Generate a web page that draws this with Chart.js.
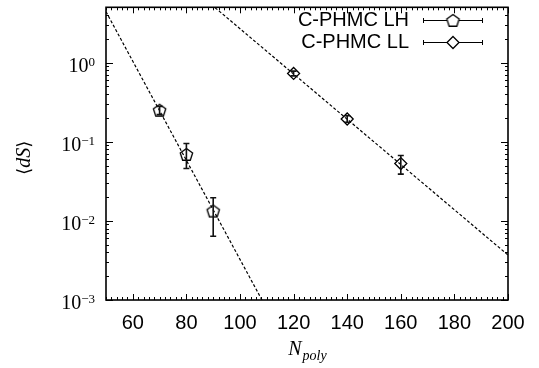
<!DOCTYPE html>
<html>
<head>
<meta charset="utf-8">
<script src="https://cdn.jsdelivr.net/npm/chart.js@4.4.1/dist/chart.umd.min.js"></script>
<style>
  html, body { margin: 0; padding: 0; background: #fff; }
  #wrap { width: 539px; height: 368px; position: relative; }
</style>
</head>
<body>
<div id="wrap"><canvas id="c" width="539" height="368"></canvas></div>
<script>
// C-PHMC LH: mean <dS> with error bars
const lhN = [70, 80, 90];
const lhDS = [0.25, 0.069, 0.0133];
const lhLow = [0.22, 0.046, 0.0064];
const lhHigh = [0.28, 0.095, 0.0196];

// C-PHMC LL: mean <dS> with error bars
const llN = [120, 140, 160];
const llDS = [0.73, 0.194, 0.053];
const llLow = [0.68, 0.176, 0.039];
const llHigh = [0.78, 0.213, 0.067];

// exponential fits: end points of the straight lines on the log axis
const lhFitN = [50, 110];
const lhFitDS = [4.4, 0.00077];
const llFitN = [85, 200];
const llFitDS = [7.2, 0.0037];

// axis ticks
const xTicks = [60, 80, 100, 120, 140, 160, 180, 200];
const yTicks = [1e-3, 1e-2, 1e-1, 1];
const yTickExp = ['\u22123', '\u22122', '\u22121', '0'];

const legendLabels = ['C-PHMC LH', 'C-PHMC LL'];

const pts = (xs, ys) => xs.map((v, i) => ({ x: v, y: ys[i] }));

// open pentagon marker
function pentagonMarker(r) {
  const s = Math.ceil(r * 2 + 4);
  const cv = document.createElement('canvas');
  cv.width = s; cv.height = s;
  const g = cv.getContext('2d');
  g.strokeStyle = '#000';
  g.lineWidth = 1.3;
  g.beginPath();
  for (let k = 0; k < 5; k++) {
    const a = -Math.PI / 2 + k * 2 * Math.PI / 5;
    const px = s / 2 + r * Math.cos(a), py = s / 2 + r * Math.sin(a) + 0.5;
    if (k === 0) g.moveTo(px, py); else g.lineTo(px, py);
  }
  g.closePath();
  g.stroke();
  return cv;
}
const pent = pentagonMarker(6.5);

function drawDiamond(ctx, cx, cy, r) {
  ctx.beginPath();
  ctx.moveTo(cx, cy - r); ctx.lineTo(cx + r, cy); ctx.lineTo(cx, cy + r); ctx.lineTo(cx - r, cy);
  ctx.closePath(); ctx.stroke();
}

const errSeries = [
  { n: lhN, lo: lhLow, hi: lhHigh },
  { n: llN, lo: llLow, hi: llHigh }
];

const decor = {
  id: 'decor',
  afterDatasetsDraw(chart) {
    const { ctx, chartArea: a, scales: { x, y } } = chart;
    ctx.save();

    // error bars
    ctx.strokeStyle = '#111';
    ctx.lineWidth = 1.6;
    errSeries.forEach(s => {
      s.n.forEach((n, i) => {
        const px = x.getPixelForValue(n);
        const y1 = y.getPixelForValue(s.lo[i]);
        const y2 = y.getPixelForValue(s.hi[i]);
        ctx.beginPath();
        ctx.moveTo(px, y1); ctx.lineTo(px, y2);
        ctx.moveTo(px - 3, y1); ctx.lineTo(px + 3, y1);
        ctx.moveTo(px - 3, y2); ctx.lineTo(px + 3, y2);
        ctx.stroke();
      });
    });

    // tick marks on all four sides, pointing inward
    ctx.strokeStyle = '#000';
    ctx.lineWidth = 1;
    ctx.beginPath();
    for (let v = x.min; v <= x.max + 1e-9; v += 2) {
      const px = Math.round(x.getPixelForValue(v)) + 0.5;
      const len = (Math.round(v) % 20 === 0) ? 6 : 3;
      ctx.moveTo(px, a.bottom); ctx.lineTo(px, a.bottom - len);
      ctx.moveTo(px, a.top); ctx.lineTo(px, a.top + len);
    }
    for (let e = -3; e <= 0; e++) {
      for (let m = 1; m <= 9; m++) {
        const v = m * Math.pow(10, e);
        if (v > y.max) break;
        const py = Math.round(y.getPixelForValue(v)) + 0.5;
        const len = m === 1 ? 7 : 3;
        ctx.moveTo(a.left, py); ctx.lineTo(a.left + len, py);
        ctx.moveTo(a.right, py); ctx.lineTo(a.right - len, py);
      }
    }
    ctx.stroke();

    // frame
    ctx.lineWidth = 1.6;
    ctx.strokeRect(a.left, a.top, a.right - a.left, a.bottom - a.top);

    // x tick labels
    ctx.fillStyle = '#000';
    ctx.font = '20px "Liberation Sans", Arial, sans-serif';
    ctx.textAlign = 'center';
    ctx.textBaseline = 'middle';
    xTicks.forEach(v => ctx.fillText(String(v), x.getPixelForValue(v), a.bottom + 23));

    // y tick labels: 10 with a raised exponent
    ctx.textBaseline = 'alphabetic';
    yTicks.forEach((v, i) => {
      const py = y.getPixelForValue(v);
      ctx.font = '13px "Liberation Serif", "Times New Roman", serif';
      const ew = ctx.measureText(yTickExp[i]).width;
      ctx.textAlign = 'left';
      ctx.fillText(yTickExp[i], 95 - ew, py + 3);
      ctx.font = '20px "Liberation Serif", "Times New Roman", serif';
      ctx.textAlign = 'right';
      ctx.fillText('10', 95 - ew, py + 9);
    });

    // x axis title: N with subscript "poly"
    const cx = (a.left + a.right) / 2;
    ctx.font = 'italic 20px "Liberation Serif", "Times New Roman", serif';
    const wN = ctx.measureText('N').width;
    ctx.font = 'italic 14px "Liberation Serif", "Times New Roman", serif';
    const wP = ctx.measureText('poly').width;
    const x0 = cx - (wN + wP) / 2;
    ctx.textAlign = 'left';
    ctx.font = 'italic 20px "Liberation Serif", "Times New Roman", serif';
    ctx.fillText('N', x0, 355);
    ctx.font = 'italic 14px "Liberation Serif", "Times New Roman", serif';
    ctx.fillText('poly', x0 + wN + 1, 360);

    // y axis title: <dS>
    ctx.save();
    ctx.translate(30, (a.top + a.bottom) / 2 + 4);
    ctx.rotate(-Math.PI / 2);
    ctx.textAlign = 'left';
    ctx.font = '18px "DejaVu Serif", "Liberation Serif", serif';
    const wl = ctx.measureText('\u27E8').width;
    ctx.font = 'italic 20px "Liberation Serif", serif';
    const wd = ctx.measureText('dS').width;
    let tx = -(wl * 2 + wd) / 2;
    ctx.font = '18px "DejaVu Serif", "Liberation Serif", serif';
    ctx.fillText('\u27E8', tx, 0);
    ctx.font = 'italic 20px "Liberation Serif", serif';
    ctx.fillText('dS', tx + wl, 0);
    ctx.font = '18px "DejaVu Serif", "Liberation Serif", serif';
    ctx.fillText('\u27E9', tx + wl + wd, 0);
    ctx.restore();

    // key
    ctx.font = '20px "Liberation Sans", Arial, sans-serif';
    ctx.textAlign = 'right';
    ctx.textBaseline = 'middle';
    const rows = [20, 42];
    rows.forEach((ry, i) => {
      ctx.fillStyle = '#000';
      ctx.fillText(legendLabels[i], 409, ry);
      ctx.strokeStyle = '#000';
      ctx.lineWidth = 1;
      ctx.beginPath();
      ctx.moveTo(423, ry + 0.5); ctx.lineTo(483, ry + 0.5);
      ctx.moveTo(423.5, ry - 2); ctx.lineTo(423.5, ry + 3);
      ctx.moveTo(482.5, ry - 2); ctx.lineTo(482.5, ry + 3);
      ctx.stroke();
      ctx.lineWidth = 1.3;
      if (i === 0) {
        ctx.fillStyle = '#fff';
        ctx.fillRect(447, ry - 6, 12, 12);
        ctx.drawImage(pent, 453 - pent.width / 2, ry + 0.5 - pent.height / 2);
      } else {
        ctx.fillStyle = '#fff';
        ctx.beginPath();
        ctx.moveTo(453, ry - 6); ctx.lineTo(459, ry); ctx.lineTo(453, ry + 6); ctx.lineTo(447, ry);
        ctx.closePath(); ctx.fill();
        drawDiamond(ctx, 453, ry + 0.5, 6);
      }
    });

    ctx.restore();
  }
};

new Chart(document.getElementById('c'), {
  type: 'scatter',
  data: {
    datasets: [
      {
        label: legendLabels[0],
        data: pts(lhN, lhDS),
        pointStyle: pent,
        pointRadius: 6,
        borderColor: '#000',
        backgroundColor: 'rgba(0,0,0,0)'
      },
      {
        label: legendLabels[1],
        data: pts(llN, llDS),
        pointStyle: 'rectRot',
        pointRadius: 6,
        borderWidth: 1.3,
        borderColor: '#000',
        backgroundColor: 'rgba(0,0,0,0)'
      },
      {
        label: 'LH fit',
        data: pts(lhFitN, lhFitDS),
        showLine: true,
        pointRadius: 0,
        borderColor: '#000',
        borderWidth: 1.2,
        borderDash: [3, 2]
      },
      {
        label: 'LL fit',
        data: pts(llFitN, llFitDS),
        showLine: true,
        pointRadius: 0,
        borderColor: '#000',
        borderWidth: 1.2,
        borderDash: [3, 2]
      }
    ]
  },
  options: {
    responsive: false,
    animation: false,
    devicePixelRatio: 1,
    layout: { padding: { left: 106, top: 4, right: 31, bottom: 68 } },
    plugins: { legend: { display: false }, tooltip: { enabled: false } },
    scales: {
      x: { type: 'linear', min: 50, max: 200, display: false },
      y: { type: 'logarithmic', min: 1e-3, max: 5, display: false }
    }
  },
  plugins: [decor]
});
</script>
</body>
</html>
